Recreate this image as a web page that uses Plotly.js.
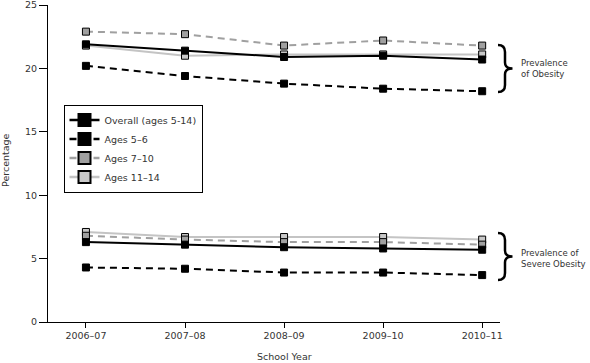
<!DOCTYPE html>
<html>
<head>
<meta charset="utf-8">
<script src="https://cdn.plot.ly/plotly-3.0.1.min.js"></script>
<style>html,body{margin:0;padding:0;background:#fff;}#chart{width:590px;height:363px;}</style>
</head>
<body>
<div id="chart"></div>
<script>
var schoolYears = ['2006–07', '2007–08', '2008–09', '2009–10', '2010–11'];
var seriesNames = ['Overall (ages 5-14)', 'Ages 5–6', 'Ages 7–10', 'Ages 11–14'];
var obesityOverall = [21.9, 21.4, 20.9, 21.0, 20.7];
var obesity5to6 = [20.2, 19.4, 18.8, 18.4, 18.2];
var obesity7to10 = [22.9, 22.7, 21.8, 22.2, 21.8];
var obesity11to14 = [21.8, 21.0, 21.1, 21.1, 21.1];
var severeOverall = [6.3, 6.1, 5.9, 5.8, 5.7];
var severe5to6 = [4.3, 4.2, 3.9, 3.9, 3.7];
var severe7to10 = [6.8, 6.5, 6.3, 6.3, 6.1];
var severe11to14 = [7.1, 6.7, 6.7, 6.7, 6.5];

var FONT = 'DejaVu Sans, Verdana, sans-serif';
var TXT = '#333333';

var styles = [
  {line: {color: '#000000', width: 2}, fill: '#000000'},
  {line: {color: '#000000', width: 2, dash: '7px,5px'}, fill: '#000000'},
  {line: {color: '#a0a0a0', width: 2, dash: '7px,5px'}, fill: '#a0a0a0'},
  {line: {color: '#c4c4c4', width: 2}, fill: '#c8c8c8'}
];
var groups = [
  [obesityOverall, severeOverall],
  [obesity5to6, severe5to6],
  [obesity7to10, severe7to10],
  [obesity11to14, severe11to14]
];

var traces = [];
// draw from last to first so Overall is on top
for (var g = groups.length - 1; g >= 0; g--) {
  for (var k = 0; k < 2; k++) {
    traces.push({
      type: 'scatter', mode: 'lines+markers',
      x: schoolYears, y: groups[g][k],
      name: seriesNames[g], legendgroup: 'g' + g, showlegend: k === 0,
      line: styles[g].line,
      marker: {symbol: 'square', size: 7, color: styles[g].fill, line: {color: '#000000', width: 1}},
      hoverinfo: 'x+y+name'
    });
  }
}

// pixel -> paper helpers for decorations
var L = 48, R = 500, T = 5, B = 322;
function px(x) { return (x - L) / (R - L); }
function py(y) { return (B - y) / (B - T); }
function brace(top, bottom) {
  var x0 = 498, xm = 505, xp = 512.5, mid = (top + bottom) / 2;
  var pts = [
    'M', px(x0), py(top),
    'Q', px(xm), py(top), px(xm), py(top + 7),
    'L', px(xm), py(mid - 6),
    'Q', px(xm), py(mid), px(xp), py(mid),
    'Q', px(xm), py(mid), px(xm), py(mid + 6),
    'L', px(xm), py(bottom - 7),
    'Q', px(xm), py(bottom), px(x0), py(bottom)
  ];
  var s = '';
  for (var i = 0; i < pts.length; i++) {
    if (typeof pts[i] === 'string') s += pts[i] + ' ';
    else { s += pts[i].toFixed(5) + (typeof pts[i + 1] === 'number' ? ',' : ' '); }
  }
  return {type: 'path', xref: 'paper', yref: 'paper', path: s.trim(), line: {color: '#000', width: 2.5}};
}

var layout = {
  width: 590, height: 363,
  margin: {l: L, r: 590 - R, t: T, b: 363 - B},
  paper_bgcolor: '#fff', plot_bgcolor: '#fff',
  font: {family: FONT, size: 9.5, color: TXT},
  showlegend: true,
  legend: {
    x: px(63.5), y: py(104.5), xanchor: 'left', yanchor: 'top',
    bordercolor: '#000', borderwidth: 1, bgcolor: '#fff',
    traceorder: 'reversed', itemsizing: 'constant', itemwidth: 30,
    font: {family: FONT, size: 9.5, color: TXT}
  },
  xaxis: {
    type: 'category', range: [-0.383, 4.18],
    showline: true, linecolor: '#000', linewidth: 1,
    ticks: 'outside', ticklen: 5, tickcolor: '#000',
    showgrid: false, zeroline: false,
    tickfont: {family: FONT, size: 9.5, color: TXT}, fixedrange: true
  },
  yaxis: {
    range: [0, 25], dtick: 5, tick0: 0,
    showline: true, linecolor: '#000', linewidth: 1,
    ticks: 'outside', ticklen: 8, tickcolor: '#000',
    showgrid: false, zeroline: false, ticklabeloverflow: 'allow',
    tickfont: {family: FONT, size: 9.5, color: TXT}, fixedrange: true
  },
  shapes: [brace(45, 92), brace(233, 280)],
  annotations: [
    {xref: 'paper', yref: 'paper', x: px(5), y: py(160), xanchor: 'center', yanchor: 'middle',
     text: 'Percentage', textangle: -90,
     showarrow: false, font: {family: FONT, size: 9.5, color: TXT}},
    {xref: 'paper', yref: 'paper', x: px(284), y: py(356.5), xanchor: 'center', yanchor: 'middle',
     text: 'School Year',
     showarrow: false, font: {family: FONT, size: 9.5, color: TXT}},
    {xref: 'paper', yref: 'paper', x: px(519), y: py(68.5), xanchor: 'left', yanchor: 'middle', align: 'left',
     text: 'Prevalence<br>of Obesity', showarrow: false, font: {family: FONT, size: 8.5, color: TXT}},
    {xref: 'paper', yref: 'paper', x: px(519), y: py(258), xanchor: 'left', yanchor: 'middle', align: 'left',
     text: 'Prevalence of<br>Severe Obesity', showarrow: false, font: {family: FONT, size: 8.5, color: TXT}}
  ]
};

Plotly.newPlot('chart', traces, layout, {displayModeBar: false, staticPlot: true}).then(function (gd) {
  // thinner legend lines, like the reference key
  var lines = gd.querySelectorAll('.legend path.js-line');
  for (var i = 0; i < lines.length; i++) lines[i].style.strokeWidth = '2.5px';
});
</script>
</body>
</html>
